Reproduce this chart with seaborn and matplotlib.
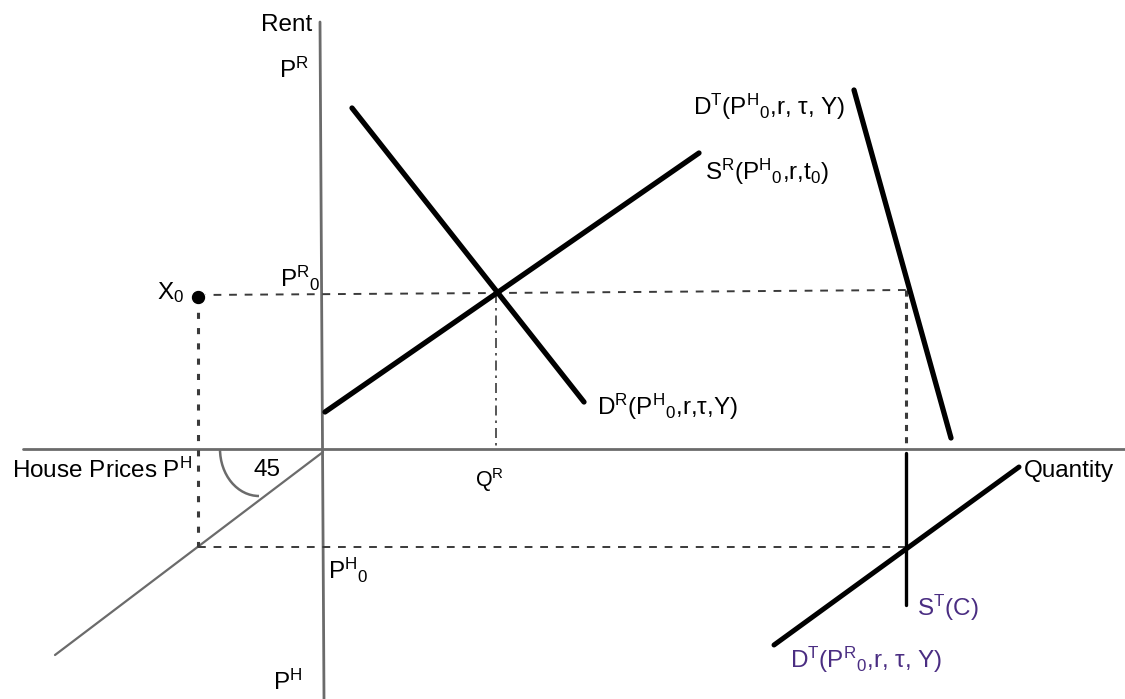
import matplotlib
matplotlib.use("Agg")
import matplotlib.pyplot as plt
import seaborn as sns
from matplotlib.patches import Arc

# ---------------- data (diagram coordinates; origin = axes crossing) ----------------
rent_axis_x = [-2, 2]
rent_axis_y = [427, -250]
qty_axis_x = [-299, 803]
qty_axis_y = [0, 0]
line45_x = [1, -267]
line45_y = [-3, -206]

sr_x = [3, 377]          # rental supply S^R
sr_y = [37, 296]
dr_x = [30, 262]         # rental demand D^R
dr_y = [341, 47]
dt_h_x = [532, 629]      # tenure demand D^T(P^H_0 ...)
dt_h_y = [359, 11]
st_x = [584, 584]        # tenure supply S^T(C)
st_y = [-4, -156]
dt_r_x = [452, 697]      # D^T(P^R_0 ...)
dt_r_y = [-196, -18]

x0_pt = [-124, 152]      # point X_0
q_r = 174                # equilibrium rental quantity
pr0_y = [154, 156, 159]  # P^R_0 level (left, middle, right)
ph0 = -98                # P^H_0 level
q_t = 584                # tenure quantity

# ---------------- style ----------------
sns.set_theme(style="white")
plt.rcParams["font.family"] = ["Liberation Sans", "DejaVu Sans"]
plt.rcParams["mathtext.fontset"] = "custom"
plt.rcParams["mathtext.rm"] = "Liberation Sans"
plt.rcParams["mathtext.it"] = "Liberation Sans:italic"
plt.rcParams["mathtext.bf"] = "Liberation Sans:bold"
plt.rcParams["text.color"] = "black"

fig = plt.figure(figsize=(11.25, 6.99), dpi=100)
ax = fig.add_axes([0, 0, 1, 1])
ax.set_xlim(-322, 803)
ax.set_ylim(-250, 449)
ax.set_axis_off()

AXC = "#6b6b6b"
GUIDE = "#3a3a3a"
PURPLE = "#4a2d82"


def line(x, y, **kw):
    sns.lineplot(x=x, y=y, sort=False, estimator=None, ax=ax, legend=False, **kw)


# axes
line(rent_axis_x, rent_axis_y, color=AXC, linewidth=2.0)
line(qty_axis_x, qty_axis_y, color=AXC, linewidth=2.0)
line(line45_x, line45_y, color=AXC, linewidth=1.6)
ax.add_patch(Arc((-63, 0), 78, 94, theta1=180, theta2=270, color=AXC, linewidth=1.8))

# guide lines
line([x0_pt[0], q_r, q_t], pr0_y, color=GUIDE, linewidth=1.4, linestyle=(0, (4, 4)))
line([x0_pt[0], x0_pt[0]], [x0_pt[1], ph0], color=GUIDE, linewidth=2.2, linestyle=(0, (2, 3)))
line([q_r, q_r], [pr0_y[1], 0], color=GUIDE, linewidth=1.2, linestyle=(0, (6, 3, 1.5, 3)))
line([q_t, q_t], [pr0_y[2], 0], color=GUIDE, linewidth=2.2, linestyle=(0, (2, 2)))
line([x0_pt[0], q_t], [ph0, ph0], color=GUIDE, linewidth=1.4, linestyle=(0, (4, 4)))

# curves
line(sr_x, sr_y, color="black", linewidth=3.8, solid_capstyle="round")
line(dr_x, dr_y, color="black", linewidth=3.8, solid_capstyle="round")
line(dt_h_x, dt_h_y, color="black", linewidth=3.8, solid_capstyle="round")
line(dt_r_x, dt_r_y, color="black", linewidth=3.6, solid_capstyle="round")
line(st_x, st_y, color="black", linewidth=2.4)

sns.scatterplot(x=[x0_pt[0]], y=[x0_pt[1]], color="black", s=110, ax=ax, legend=False, zorder=5)

# labels
FS = 17.5
ax.text(-10, 424, "Rent", fontsize=FS, ha="right", va="center")
ax.text(-43, 379, r"P$^{\mathrm{R}}$", fontsize=FS, ha="left", va="center")
ax.text(-42, 171, r"P$^{\mathrm{R}}{}_{\mathrm{0}}$", fontsize=FS, ha="left", va="center")
ax.text(-165, 156, r"X$_{\mathrm{0}}$", fontsize=FS, ha="left", va="center")
ax.text(371, 342, r"D$^{\mathrm{T}}$(P$^{\mathrm{H}}{}_{\mathrm{0}}$,r, τ, Y)", fontsize=FS, ha="left", va="center")
ax.text(383, 277, r"S$^{\mathrm{R}}$(P$^{\mathrm{H}}{}_{\mathrm{0}}$,r,t$_{\mathrm{0}}$)", fontsize=FS, ha="left", va="center")
ax.text(275, 42, r"D$^{\mathrm{R}}$(P$^{\mathrm{H}}{}_{\mathrm{0}}$,r,τ,Y)", fontsize=FS, ha="left", va="center")
ax.text(-310, -21, r"House Prices P$^{\mathrm{H}}$", fontsize=FS, ha="left", va="center")
ax.text(-68, -21, "45", fontsize=FS, ha="left", va="center")
ax.text(153, -31, r"Q$^{\mathrm{R}}$", fontsize=FS - 2, ha="left", va="center")
ax.text(702, -22, "Quantity", fontsize=FS, ha="left", va="center")
ax.text(6, -121, r"P$^{\mathrm{H}}{}_{\mathrm{0}}$", fontsize=FS, ha="left", va="center")
ax.text(-49, -233, r"P$^{\mathrm{H}}$", fontsize=FS, ha="left", va="center")
ax.text(595, -159, r"S$^{\mathrm{T}}$(C)", fontsize=FS, ha="left", va="center", color=PURPLE)
ax.text(468, -211, r"D$^{\mathrm{T}}$(P$^{\mathrm{R}}{}_{\mathrm{0}}$,r, τ, Y)", fontsize=FS, ha="left", va="center", color=PURPLE)

fig.savefig("out.png", dpi=100, facecolor="white")
